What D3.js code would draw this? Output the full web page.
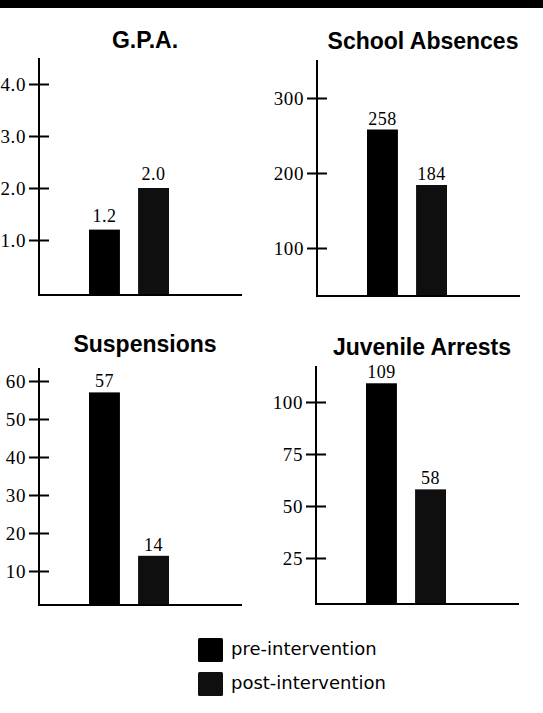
<!DOCTYPE html>
<html>
<head>
<meta charset="utf-8">
<script src="https://cdn.jsdelivr.net/npm/d3@7"></script>
<style>
  html, body { margin: 0; padding: 0; background: #fff; }
  svg { display: block; }
</style>
</head>
<body>
<svg id="chart" width="543" height="713"></svg>
<script>
// ---- data ----
const categories = ["pre-intervention", "post-intervention"];
const panelTitles = ["G.P.A.", "School Absences", "Suspensions", "Juvenile Arrests"];
const preValues = [1.2, 258, 57, 109];
const postValues = [2.0, 184, 14, 58];
const tickValues = [[1, 2, 3, 4], [100, 200, 300], [10, 20, 30, 40, 50, 60], [25, 50, 75, 100]];
const tickFormats = [".1f", "d", "d", "d"];
const domainMax = [4, 300, 60, 100];

// ---- layout (positions / styles) ----
const layout = [
  { axisX: 39,  axisTop: 58,  baseY: 295, zeroY: 292, topY: 84,  titleY: 48,  valGap: 8 },
  { axisX: 317, axisTop: 60,  baseY: 296, zeroY: 323, topY: 98,  titleY: 49,  valGap: 5 },
  { axisX: 39,  axisTop: 368, baseY: 605, zeroY: 609, topY: 381, titleY: 352, valGap: 5 },
  { axisX: 316, axisTop: 366, baseY: 604, zeroY: 610, topY: 402, titleY: 355, valGap: 5 }
];
const colors = { "pre-intervention": "#000000", "post-intervention": "#0f0f0f" };
const serif = "'Liberation Serif', 'Times New Roman', serif";
const sans = "'Liberation Sans', Arial, Helvetica, sans-serif";

const svg = d3.select("#chart");

// top black band
svg.append("rect").attr("x", 0).attr("y", 0).attr("width", 543).attr("height", 8).attr("fill", "#000");

panelTitles.forEach((title, i) => {
  const L = layout[i];
  const g = svg.append("g");
  const y = d3.scaleLinear().domain([0, domainMax[i]]).range([L.zeroY, L.topY]);
  const x = d3.scaleBand().domain(categories)
    .range([L.axisX + 50, L.axisX + 130]).paddingInner(0.37).paddingOuter(0);

  // title
  g.append("text")
    .attr("x", L.axisX + 106).attr("y", L.titleY)
    .attr("text-anchor", "middle")
    .attr("font-family", sans).attr("font-weight", "bold").attr("font-size", 23)
    .attr("fill", "#000")
    .text(title);

  // bars
  const vals = [preValues[i], postValues[i]];
  const rows = categories.map((c, k) => ({ c, v: vals[k] }));
  g.selectAll("rect.bar").data(rows).enter().append("rect")
    .attr("class", "bar")
    .attr("x", d => x(d.c))
    .attr("width", x.bandwidth())
    .attr("y", d => y(d.v))
    .attr("height", d => L.baseY - y(d.v))
    .attr("fill", d => colors[d.c]);

  // value labels
  const vf = d3.format(tickFormats[i]);
  g.selectAll("text.val").data(rows).enter().append("text")
    .attr("class", "val")
    .attr("x", d => x(d.c) + x.bandwidth() / 2)
    .attr("y", d => y(d.v) - L.valGap)
    .attr("text-anchor", "middle")
    .attr("font-family", serif).attr("font-size", 18)
    .attr("letter-spacing", 0.5)
    .attr("fill", "#000")
    .text(d => vf(d.v));

  // y axis
  const axis = d3.axisLeft(y).tickValues(tickValues[i])
    .tickFormat(d3.format(tickFormats[i])).tickSize(10).tickPadding(3);
  const ag = g.append("g").attr("transform", `translate(${L.axisX},0)`).call(axis);
  ag.select(".domain").remove();
  ag.selectAll(".tick line").attr("x1", -10).attr("x2", 10)
    .attr("stroke", "#000").attr("stroke-width", 2);
  ag.selectAll(".tick text")
    .attr("font-family", serif).attr("font-size", 19).attr("letter-spacing", 0.6)
    .attr("fill", "#000");

  // axis lines
  g.append("line").attr("x1", L.axisX).attr("x2", L.axisX)
    .attr("y1", L.axisTop).attr("y2", L.baseY + 1)
    .attr("stroke", "#000").attr("stroke-width", 2);
  g.append("line").attr("x1", L.axisX - 1).attr("x2", L.axisX + 203)
    .attr("y1", L.baseY).attr("y2", L.baseY)
    .attr("stroke", "#000").attr("stroke-width", 2);
});

// legend
const legend = svg.append("g").attr("transform", "translate(198,638)");
const li = legend.selectAll("g").data(categories).enter().append("g")
  .attr("transform", (d, k) => `translate(0,${k * 34})`);
li.append("rect").attr("width", 25).attr("height", 24).attr("rx", 1.5)
  .attr("fill", d => colors[d]);
li.append("text").attr("x", 33).attr("y", 17)
  .attr("font-family", "'DejaVu Sans', sans-serif").attr("font-size", 18)
  .attr("fill", "#000")
  .text(d => d);
</script>
</body>
</html>
